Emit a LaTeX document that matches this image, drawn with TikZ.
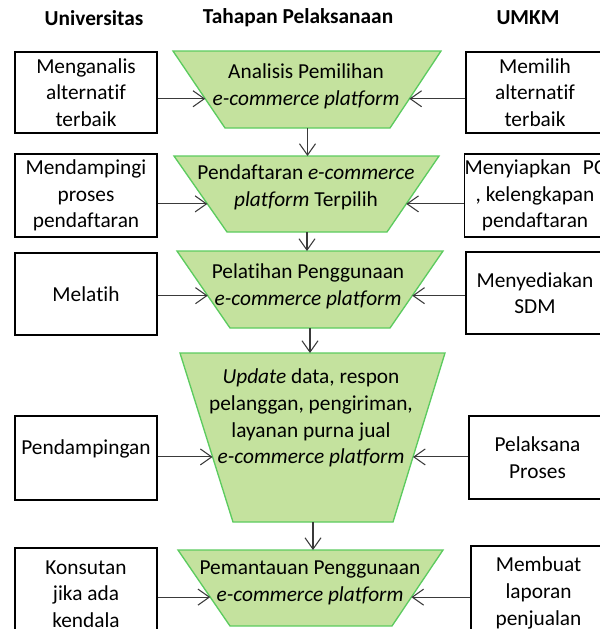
\documentclass[tikz,border=0pt]{standalone}
\usepackage{fontspec}
\setmainfont{Carlito}[Ligatures=NoCommon]
\usetikzlibrary{arrows.meta,calc}
\definecolor{stagefill}{HTML}{C4E29E}
\definecolor{stageline}{HTML}{5CCB5F}
\definecolor{arrowgray}{HTML}{3A3A3A}

\begin{document}
\begin{tikzpicture}[x=0.75pt,y=-0.75pt,font=\fontsize{16}{20}\selectfont,
  head/.style={font=\fontsize{16}{20}\selectfont\bfseries},
  box/.style={draw=black,line width=0.9pt,align=center,inner sep=0pt},
  lbox/.style={box,minimum width=142*0.75pt},
  stage/.style={fill=stagefill,draw=stageline,line width=1pt},
  stagetext/.style={align=center,inner sep=0pt},
  arr/.style={draw=arrowgray,line width=0.8pt,-{Straight Barb[length=8.5pt,width=12pt,line width=0.8pt]}}]
 \useasboundingbox (0,0) rectangle (600,629);
 \clip (0,0) rectangle (600,629);
 % column heads
 \node[head] (hu) at (94,18) {Universitas};
 \node[head] (ht) at (298,18) {Tahapan Pelaksanaan};
 \node[head] (hm) at (528,18) {UMKM};
 % stages
 \foreach \n/\yt/\yb/\tl/\tr/\bl/\br/\f in {1/51/128/173/441/225/390/0.62,
   2/156/232/174/439/227/387/0.63,3/251/328/177/443/230/390/0.58,
   4/353/522/180/445/233/393/0.615,5/550/626/178/443/230/392/0.62}{
  \draw[stage] (\tl,\yt) coordinate (T\n-tl) -- (\tr,\yt) coordinate (T\n-tr)
   -- (\br,\yb) coordinate (T\n-br) -- (\bl,\yb) coordinate (T\n-bl) -- cycle;
  \coordinate (T\n-l) at ($(T\n-tl)!\f!(T\n-bl)$);
  \coordinate (T\n-r) at ($(T\n-tr)!\f!(T\n-br)$);
  \coordinate (T\n-s) at ($(T\n-bl)!0.5!(T\n-br)$);
  \coordinate (T\n-n) at ($(T\n-tl)!0.5!(T\n-tr)$);
 }
 \node[stagetext] (t1) at (306,86) {Analisis Pemilihan\\\textit{e-commerce platform}};
 \node[stagetext] (t2) at (306,187) {Pendaftaran \textit{e-commerce}\\\textit{platform} Terpilih};
 \node[stagetext] (t3) at (308,286) {Pelatihan Penggunaan\\\textit{e-commerce platform}};
 \node[stagetext] (t4) at (311,418) {\textit{Update} data, respon\\pelanggan, pengiriman,\\layanan purna jual\\\textit{e-commerce platform}};
 \node[stagetext] (t5) at (310,583) {Pemantauan Penggunaan\\\textit{e-commerce platform}};
 % Universitas
 \node[lbox,minimum height=81*0.75pt] (lb1) at (86,92.5) {Menganalis\\alternatif\\terbaik};
 \node[lbox,minimum height=83*0.75pt] (lb2) at (86,195.5) {Mendampingi\\proses\\pendaftaran};
 \node[lbox,minimum height=82*0.75pt] (lb3) at (86,294) {Melatih};
 \node[lbox,minimum height=84*0.75pt] (lb4) at (86,458) {\raisebox{3pt}[0pt][0pt]{Pendampingan}};
 \node[lbox,minimum height=92*0.75pt] (lb5) at (86,594) {Konsutan\\jika ada\\kendala};
 % UMKM
 \node[box,minimum width=138*0.75pt,minimum height=81*0.75pt] (rb1) at (535,92.5) {Memilih\\alternatif\\terbaik};
 \node[box,minimum width=138*0.75pt,minimum height=83*0.75pt] (rb2) at (535,195.5) {Menyiapkan\hspace{9pt}PC\\, kelengkapan\hspace*{14pt}\\pendaftaran};
 \node[box,minimum width=138*0.75pt,minimum height=82*0.75pt] (rb3) at (535,293) {Menyediakan\\SDM};
 \node[box,minimum width=137*0.75pt,minimum height=83*0.75pt] (rb4) at (537.5,457.5) {Pelaksana\\Proses};
 \node[box,minimum width=135*0.75pt,minimum height=94*0.75pt] (rb5) at (538.5,593) {Membuat\\laporan\\penjualan};
 % connectors
 \foreach \n in {1,...,5}{
  \draw[arr] (lb\n.east |- T\n-l) -- (T\n-l);
  \draw[arr] (rb\n.west |- T\n-r) -- (T\n-r);
 }
 \foreach \n/\m in {1/2,2/3,3/4,4/5}{\draw[arr] (T\n-s) -- (T\n-s |- T\m-n);}
\end{tikzpicture}
\end{document}
